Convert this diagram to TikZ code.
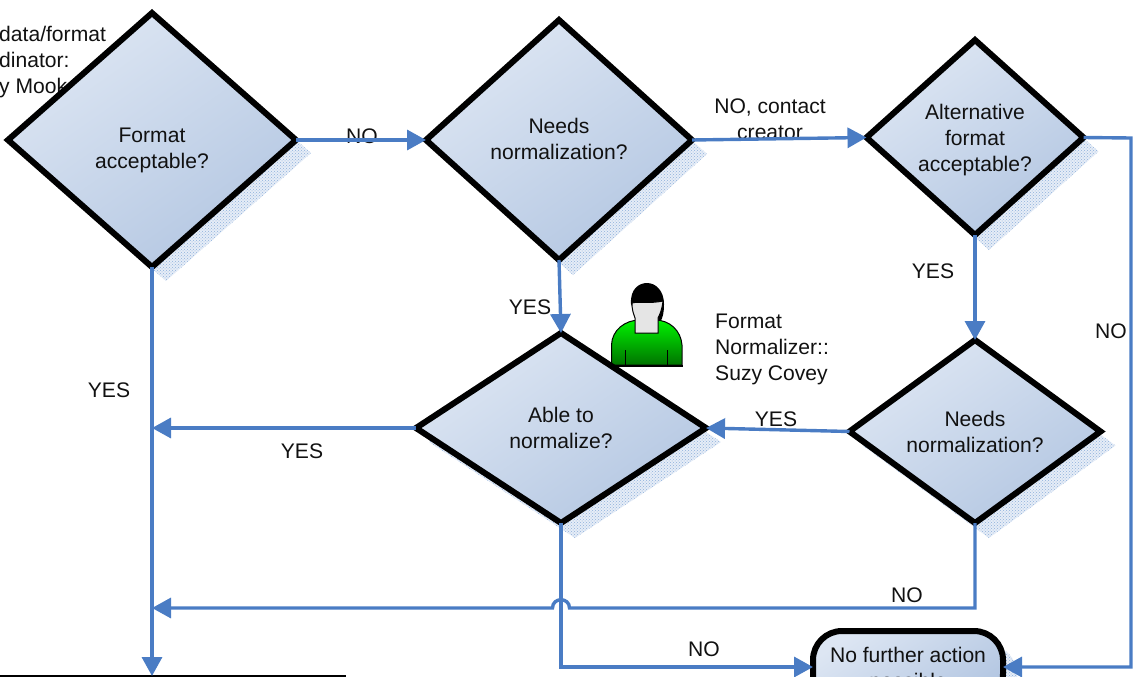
\documentclass[tikz,border=0pt]{standalone}
\usepackage{fontspec}
\setmainfont{Liberation Sans}
\usetikzlibrary{shapes.geometric,arrows.meta,patterns,calc}
\definecolor{linkblue}{HTML}{4A7CC4}
\definecolor{shadeblue}{HTML}{8FB0DC}
\definecolor{shadepale}{HTML}{E6EDF7}
\definecolor{lightfill}{HTML}{DDE6F3}
\definecolor{darkfill}{HTML}{B4C7E2}
\definecolor{inktext}{HTML}{111111}
\tikzset{
  txt/.style={font=\fontsize{21.1}{26}\selectfont,text=inktext,align=center,inner sep=0pt},
  lefttxt/.style={txt,align=left},
  dec/.style={diamond,draw=black,line width=6pt,outer sep=0pt,inner sep=0pt,aspect=1,
    left color=lightfill,right color=darkfill,shading angle=35,
    font=\fontsize{21.1}{26}\selectfont,text=inktext,align=center},
  decshadow/.style={diamond,outer sep=0pt,inner sep=0pt,aspect=1,draw=none,
    preaction={fill=shadepale},pattern=crosshatch dots,pattern color=shadeblue},
  term/.style={rectangle,rounded corners=29pt,draw=black,line width=6pt,outer sep=0pt,inner sep=0pt,
    left color=lightfill,right color=darkfill,shading angle=35,
    font=\fontsize{21.1}{26}\selectfont,text=inktext,align=center},
  link/.style={draw=linkblue,line width=3.4pt},
  arrowlink/.style={link,-{Triangle[length=19pt,width=20pt]}},
}
\begin{document}
\begin{tikzpicture}[x=1pt,y=-1pt]
\useasboundingbox (0,0) rectangle (1143,677);
\clip (0,0) rectangle (1143,677);
% partly hidden text behind the shapes
\node[lefttxt,anchor=west] (coord) at (-1,62) {data/format\\dinator:\\y Mook};
\node[txt] (hidden) at (573,246) {s};
% labels
\node[txt] (lno1) at (362,136) {NO};
\node[txt] (lno2) at (770,119.5) {NO, contact\\creator};
\node[txt] (lyes1) at (109,390) {YES};
\node[txt] (lyes2) at (302,451) {YES};
\node[txt] (lyes3) at (530,307) {YES};
\node[txt] (lyes4) at (776,419) {YES};
\node[txt] (lyes5) at (933,271) {YES};
\node[txt] (lno3) at (1111,331) {NO};
\node[txt] (lno4) at (907,595) {NO};
\node[txt] (lno5) at (704,649) {NO};
\node[lefttxt,anchor=west] (fn) at (715,349) {Format\\Normalizer::\\Suzy Covey};
% shadows
\node[decshadow,minimum width=290pt,minimum height=256pt] (s1) at (166,153) {};
\node[decshadow,minimum width=268pt,minimum height=242pt] (s2) at (573,154) {};
\node[decshadow,minimum width=219pt,minimum height=197pt] (s3) at (989,151.5) {};
\node[decshadow,minimum width=253pt,minimum height=185pt] (s4) at (989,445.5) {};
\node[decshadow,minimum width=292pt,minimum height=192pt] (s5) at (575,442) {};
\node[rectangle,rounded corners=29pt,preaction={fill=shadepale},pattern=crosshatch dots,pattern color=shadeblue,minimum width=190pt,minimum height=72pt] (st) at (922,681) {};
% person
\fill[black] (631,304) .. controls (630,289) and (639,283) .. (647,283) .. controls (656,283) and (664,291) .. (664,304) .. controls (664,312) and (663,318) .. (660,322) -- (640,322) -- (633,310) -- cycle;
\shade[top color=green!95!black,bottom color=green!45!black,draw=black,line width=1pt]
  (611.5,365) -- (611.5,345) .. controls (612,330) and (625,320) .. (640,320) -- (655,320) .. controls (670,320) and (681,331) .. (682,345) -- (682,365) -- cycle;
\draw[black,line width=2.5pt] (611,366) -- (683,366);
\draw[black,line width=1pt] (625.5,350) -- (625.5,366) (667.5,350) -- (667.5,366);
\draw[black,fill=black!10,line width=1pt] (635,333) -- (635,318) .. controls (634,314) and (632,312) .. (632,303) .. controls (640,301) and (648,304) .. (663,301) .. controls (662,310) and (660,314) .. (658,318) -- (658,333) -- cycle;
% decisions
\node[dec,minimum width=288pt,minimum height=254pt] (d1) at (152,140) {\rule{0pt}{36pt}Format\\acceptable?};
\node[dec,minimum width=266pt,minimum height=240pt] (d2) at (559,140) {Needs\\normalization?\rule[-2pt]{0pt}{1pt}};
\node[dec,minimum width=217pt,minimum height=195pt] (d3) at (975,137.5) {\rule{0pt}{21pt}Alternative\\format\\acceptable?};
\node[dec,minimum width=251pt,minimum height=183pt] (d4) at (975,431.5) {Needs\\normalization?};
\node[dec,minimum width=290pt,minimum height=190pt] (d5) at (561,428) {Able to\\normalize?};
\node[term,minimum width=190pt,minimum height=72pt] (t) at (908,667) {\rule{0pt}{21pt}No further action\\possible};
\node[rectangle,draw=black,line width=1.2pt,fill=white,minimum width=355pt,minimum height=40pt,anchor=north west,outer sep=0pt] (box) at (-10,676) {};
% connectors
\draw[arrowlink] (d1.east) -- (d2.west);
\draw[arrowlink] (d2.east) -- (d3.west);
\draw[arrowlink] (d2.south) -- (d5.north);
\draw[arrowlink] (d3.south) -- (d4.north);
\draw[arrowlink] (d4.west) -- (d5.east);
\draw[arrowlink] (d5.west) -- (d5.west -| d1.south);
\draw[arrowlink] (d1.south) -- (d1.south |- box.north);
\coordinate (cornerA) at (d4.south |- 0,608);
\coordinate (jumpR) at ($(d5.south |- cornerA)+(8.5,0)$);
\coordinate (jumpL) at ($(d5.south |- cornerA)+(-8.5,0)$);
\draw[arrowlink,line join=miter] (d4.south) -- (cornerA) -- (jumpR) .. controls ($(jumpR)+(0,-11)$) and ($(jumpL)+(0,-11)$) .. (jumpL) -- (cornerA -| d1.south);
\draw[arrowlink] (d5.south) -- (d5.south |- t.west) -- (t.west);
\draw[arrowlink] (d3.east) -- (1131,138) -- (1131,667) -- (t.east);
\end{tikzpicture}
\end{document}
